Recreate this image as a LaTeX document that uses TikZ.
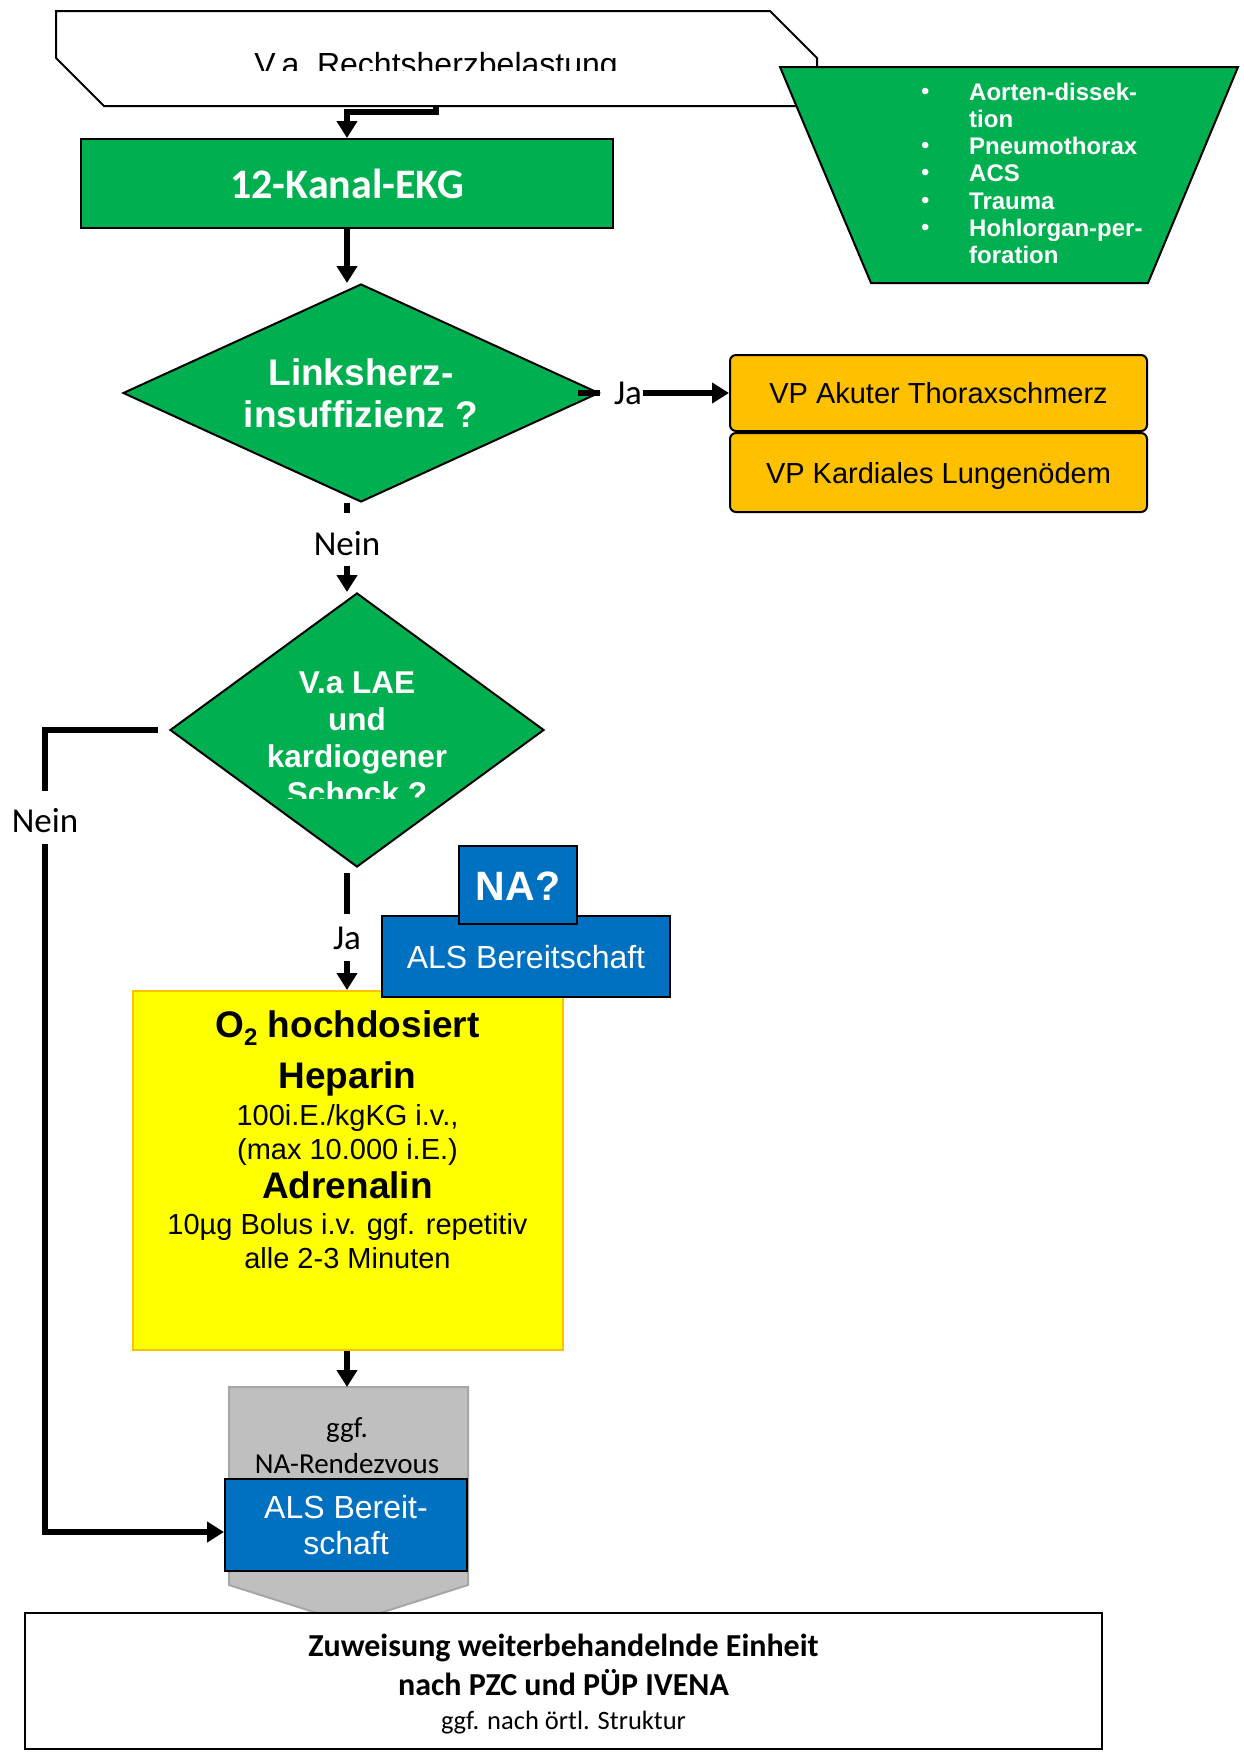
\documentclass[tikz,border=0pt]{standalone}
\usepackage{fontspec}
\setmainfont{Liberation Sans}
\newfontfamily\calibri{Carlito}
\usetikzlibrary{arrows.meta,shapes.geometric}

\definecolor{slgreen}{HTML}{00B050}
\definecolor{slblue}{HTML}{0070C0}
\definecolor{slorange}{HTML}{FFC000}
\definecolor{slyellow}{HTML}{FFFF00}
\definecolor{slgrey}{HTML}{BFBFBF}
\definecolor{slgreyline}{HTML}{A6A6A6}

\newcommand{\fsz}[2]{\fontsize{#1}{#2}\selectfont}

\tikzset{
  conn/.style={line width=5.5pt},
  flow/.style={conn, -{Triangle[length=17pt,width=20pt]}},
  lbl/.style={font=\calibri\fsz{35}{40}, fill=white, inner xsep=1pt, inner ysep=0pt, text height=42pt, text depth=11pt},
  greenbox/.style={draw, line width=2pt, fill=slgreen, text=white, inner sep=0pt},
  decision/.style={diamond, draw, line width=2pt, fill=slgreen, text=white, inner sep=0pt, align=center},
  vpbox/.style={draw, line width=2pt, rounded corners=6pt, fill=slorange, font=\fsz{29}{34}, minimum width=417pt, inner sep=0pt, text height=21pt, text depth=0pt},
  alsbox/.style={draw, line width=2pt, fill=slblue, text=white, inner sep=0pt},
  medline/.style={anchor=base, font=\fsz{29}{34}},
  medhead/.style={anchor=base, font=\bfseries\fsz{37}{42}},
  greyline/.style={anchor=base, font=\calibri\fsz{29}{34}}
}

\begin{document}
\begin{tikzpicture}[x=1pt,y=-1pt]
  \useasboundingbox (0,0) rectangle (1243,1754);

  % Verdacht Rechtsherzbelastung
  \draw[line width=2pt, fill=white] (56,11) -- (770,11) -- (817,58) -- (817,106) -- (104,106) -- (56,58) -- cycle;
  \begin{scope}
    \clip (60,14) rectangle (812,70.5);
    \node[anchor=base, font=\fsz{32}{36}] (susp) at (436,75) {V.a\ \ Rechtsherzbelastung};
  \end{scope}
  \coordinate (susp-out) at (436,106);

  % Differentialdiagnosen
  \draw[line width=2pt, fill=slgreen] (780,67) -- (1238,67) -- (1148,283) -- (871,283) -- cycle;
  \foreach \b/\txt [count=\i] in {1/Aorten-dissek-, 0/tion, 1/Pneumothorax, 1/ACS, 1/Trauma, 1/Hohlorgan-per-, 0/foration} {
    \ifnum\b=1
      \node[anchor=base west, text=white, inner sep=0pt, font=\fsz{24}{27}] (dd-b\i) at (921,{99+27.3*(\i-1)}) {\textbullet};
    \fi
    \node[anchor=base west, text=white, inner sep=0pt, font=\bfseries\fsz{24}{27}] (dd-\i) at (969,{100+27.3*(\i-1)}) {\txt};
  }

  \node[greenbox, minimum width=532pt, minimum height=89pt, font=\calibri\bfseries\fsz{42}{48}, text height=30pt, text depth=0pt] (ekg) at (347,183.5) {12-Kanal-EKG};

  \node[decision, minimum width=476pt, minimum height=218pt, aspect=2.18, font=\bfseries\fsz{37}{42}] (lhi) at (361,393) {Linksherz-\\insuffizienz ?};

  \node[vpbox, minimum height=76pt] (vp1) at (938.5,393) {VP Akuter Thoraxschmerz};
  \node[vpbox, minimum height=79pt] (vp2) at (938.5,472.5) {VP Kardiales Lungenödem};

  \node[decision, minimum width=374pt, minimum height=274pt] (lae) at (357,730) {};
  \begin{scope}
    \clip (190,650) rectangle (525,798);
    \foreach \txt [count=\i] in {V.a LAE, und, kardiogener, Schock ?}
      \node[anchor=base, text=white, font=\bfseries\fsz{31.5}{36}] (lae-\i) at (357,{693+37*(\i-1)}) {\txt};
  \end{scope}

  % Massnahmen
  \node[draw=slorange, line width=2pt, fill=slyellow, minimum width=430pt, minimum height=359pt] (med) at (348,1170.5) {};
  \node[medhead] (med-1) at (347.5,1037) {O\raisebox{-0.22em}{\fsz{24}{24}2} hochdosiert};
  \node[medhead] (med-2) at (347.5,1088) {Heparin};
  \node[medline] (med-3) at (347.5,1125) {100i.E./kgKG i.v.,};
  \node[medline] (med-4) at (347.5,1159) {(max 10.000 i.E.)};
  \node[medhead] (med-5) at (347.5,1198) {Adrenalin};
  \node[medline] (med-6) at (347.5,1234) {10µg Bolus i.v. ggf. repetitiv};
  \node[medline] (med-7) at (347.5,1268) {alle 2-3 Minuten};

  \node[alsbox, minimum width=288pt, minimum height=81pt, font=\fsz{32}{36}, text height=23pt, text depth=0pt] (als1) at (526,956.5) {ALS Bereitschaft};
  \node[alsbox, minimum width=118pt, minimum height=78pt, font=\bfseries\fsz{41}{46}, text height=30pt, text depth=0pt] (na) at (518,885) {NA?};

  % Rendezvous
  \draw[line width=2pt, draw=slgreyline, fill=slgrey] (229,1387) -- (468,1387) -- (468,1585) -- (348.5,1623) -- (229,1585) -- cycle;
  \coordinate (rv-top) at (347,1387);
  \node[greyline] (rv-1) at (347,1437) {ggf.};
  \node[greyline] (rv-2) at (347,1473) {NA-Rendezvous};
  \node[alsbox, minimum width=242pt, minimum height=92pt, font=\fsz{32}{36}, align=center] (als2) at (346,1525) {ALS Bereit-\\schaft};
  \coordinate (als2-in) at ([yshift=-7pt]als2.west);

  \node[draw, line width=2pt, fill=white, minimum width=1077pt, minimum height=136pt] (ziel) at (563.5,1681) {};
  \node[anchor=base, font=\calibri\bfseries\fsz{32}{36}] (ziel-1) at (563.5,1656) {Zuweisung weiterbehandelnde Einheit};
  \node[anchor=base, font=\calibri\bfseries\fsz{32}{36}] (ziel-2) at (563.5,1695) {nach PZC und PÜP IVENA};
  \node[anchor=base, font=\calibri\fsz{26.5}{30}] (ziel-3) at (563.5,1729) {ggf. nach örtl. Struktur};

  % Verbindungen
  \coordinate (axis) at (347,0);
  \draw[flow] (susp-out) -- ++(0,6) -| (ekg.north);
  \draw[flow] (ekg.south) -- (ekg.south |- lhi.north);
  \node[font=\calibri\fsz{35}{40}, inner sep=1pt] (ja1) at (628,393) {Ja};
  \draw[conn] ([xshift=-22pt]lhi.east) -- (lhi.east);
  \draw[flow] (ja1.east) -- (vp1.west);
  \draw[flow] (lhi.south -| axis) -- node[lbl, pos=0.412] {Nein} (lae.north -| axis);
  \coordinate (nein-corner) at (45,730);
  \draw[flow] ([xshift=-11pt]lae.west) -- (nein-corner) -- node[lbl, pos=0.109] {Nein} (nein-corner |- als2-in) -- (als2-in);
  \draw[flow] ([yshift=-5pt]lae.south -| axis) -- node[lbl, text height=36pt, pos=0.55] {Ja} (med.north -| axis);
  \draw[flow] (med.south -| axis) -- (rv-top);
\end{tikzpicture}
\end{document}
